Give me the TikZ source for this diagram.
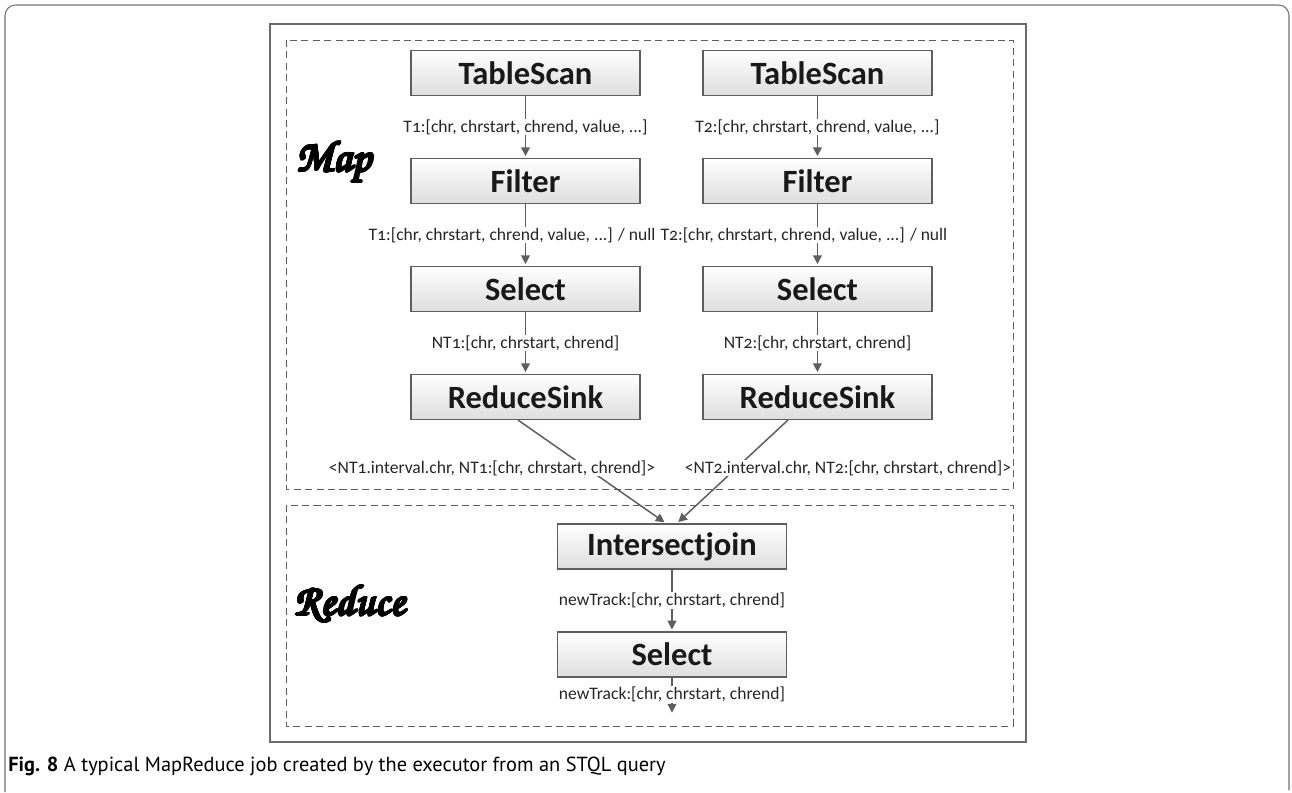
\documentclass[tikz,border=0pt]{standalone}
\usepackage[T1]{fontenc}
\usepackage{fontspec}
\setmainfont{Carlito}
\newfontfamily\capfont{PT Sans}
\usepackage[copies]{contour}
\usetikzlibrary{positioning, arrows.meta}
\definecolor{linegray}{HTML}{5E5E5E}
\definecolor{framegray}{HTML}{6B6B6B}
\contourlength{0.6pt}
\tikzset{
  op/.style={rectangle, draw=linegray, line width=0.7pt, top color=white, bottom color=black!13,
    minimum width=4.58cm, minimum height=0.9cm, font=\fontsize{18.5}{20}\selectfont\bfseries, text=black!90},
  lbl/.style={fill=white, inner sep=0.5pt, text=black!85,
    font=\fontsize{10}{12}\selectfont\addfontfeature{Numbers=OldStyle}},
  phase/.style={font=\fontencoding{T1}\fontfamily{pzc}\fontseries{mb}\fontshape{it}\fontsize{25}{27}\selectfont},
  region/.style={draw=linegray, dash pattern=on 4pt off 2.5pt, line width=0.5pt},
}

\begin{document}
\begin{tikzpicture}[x=0.02cm, y=-0.02cm, node distance=2.16cm, on grid, shorten >=1pt,
    >={Triangle[length=5pt, width=5pt]}]
   \useasboundingbox (0,0) rectangle (1292,792);
   % frames
   \draw[black!55, line width=0.6pt, rounded corners=6pt] (5,792) -- (5,5) -- (1289,5) -- (1289,792);
   \draw[framegray, line width=1.6pt] (270,24) rectangle (1026,742);
   \draw[region] (286,40) rectangle (1013,489);
   \draw[region] (286,505) rectangle (1013,726);

   \node[phase] (map) at (334,163) {\contour{black}{Map}};
   \node[phase] (reduce) at (350,604) {\contour{black}{Reduce}};

   % map side
   \node[op] (ts1) at (525.5,73) {TableScan};
   \node[op] (ts2) [right=5.84cm of ts1] {TableScan};
   \node[op] (f1) [below=of ts1] {Filter};
   \node[op] (f2) [below=of ts2] {Filter};
   \node[op] (s1) [below=of f1] {Select};
   \node[op] (s2) [below=of f2] {Select};
   \node[op] (rs1) [below=of s1] {ReduceSink};
   \node[op] (rs2) [below=of s2] {ReduceSink};

   % reduce side
   \node[op] (ij) [below right=2.99cm and 2.93cm of rs1] {Intersectjoin};
   \node[op] (s3) [below=of ij] {Select};
   \coordinate[below=1.2cm of s3] (out);

   \path[->, color=linegray, line width=0.85pt]
   (ts1) edge node[lbl] {T1:[chr, chrstart, chrend, value, ...]} (f1)
   (f1) edge node[lbl, xshift=-0.27cm] {T1:[chr, chrstart, chrend, value, ...] / null} (s1)
   (s1) edge node[lbl] {NT1:[chr, chrstart, chrend]} (rs1)
   (ts2) edge node[lbl] {T2:[chr, chrstart, chrend, value, ...]} (f2)
   (f2) edge node[lbl, xshift=-0.27cm] {T2:[chr, chrstart, chrend, value, ...] / null} (s2)
   (s2) edge node[lbl] {NT2:[chr, chrstart, chrend]} (rs2)
   (ij) edge node[lbl] {newTrack:[chr, chrstart, chrend]} (s3)
   (s3) edge node[lbl, pos=0.45] {newTrack:[chr, chrstart, chrend]} (out);

   \draw[->, linegray, line width=0.85pt] ([xshift=-0.15cm]rs1.south) -- ([xshift=-0.12cm]ij.north);
   \draw[->, linegray, line width=0.85pt] ([xshift=-0.59cm]rs2.south) -- ([xshift=0.1cm]ij.north);
   \node[lbl] (k1) at (492,468) {<NT1.interval.chr, NT1:[chr, chrstart, chrend]>};
   \node[lbl] (k2) at (848,468) {<NT2.interval.chr, NT2:[chr, chrstart, chrend]>};

   \node[anchor=west, inner sep=0pt, font=\capfont\fontsize{11.6}{13}\selectfont] (cap) at (8,766)
     {\textbf{Fig. 8} A typical MapReduce job created by the executor from an STQL query};
\end{tikzpicture}
\end{document}
